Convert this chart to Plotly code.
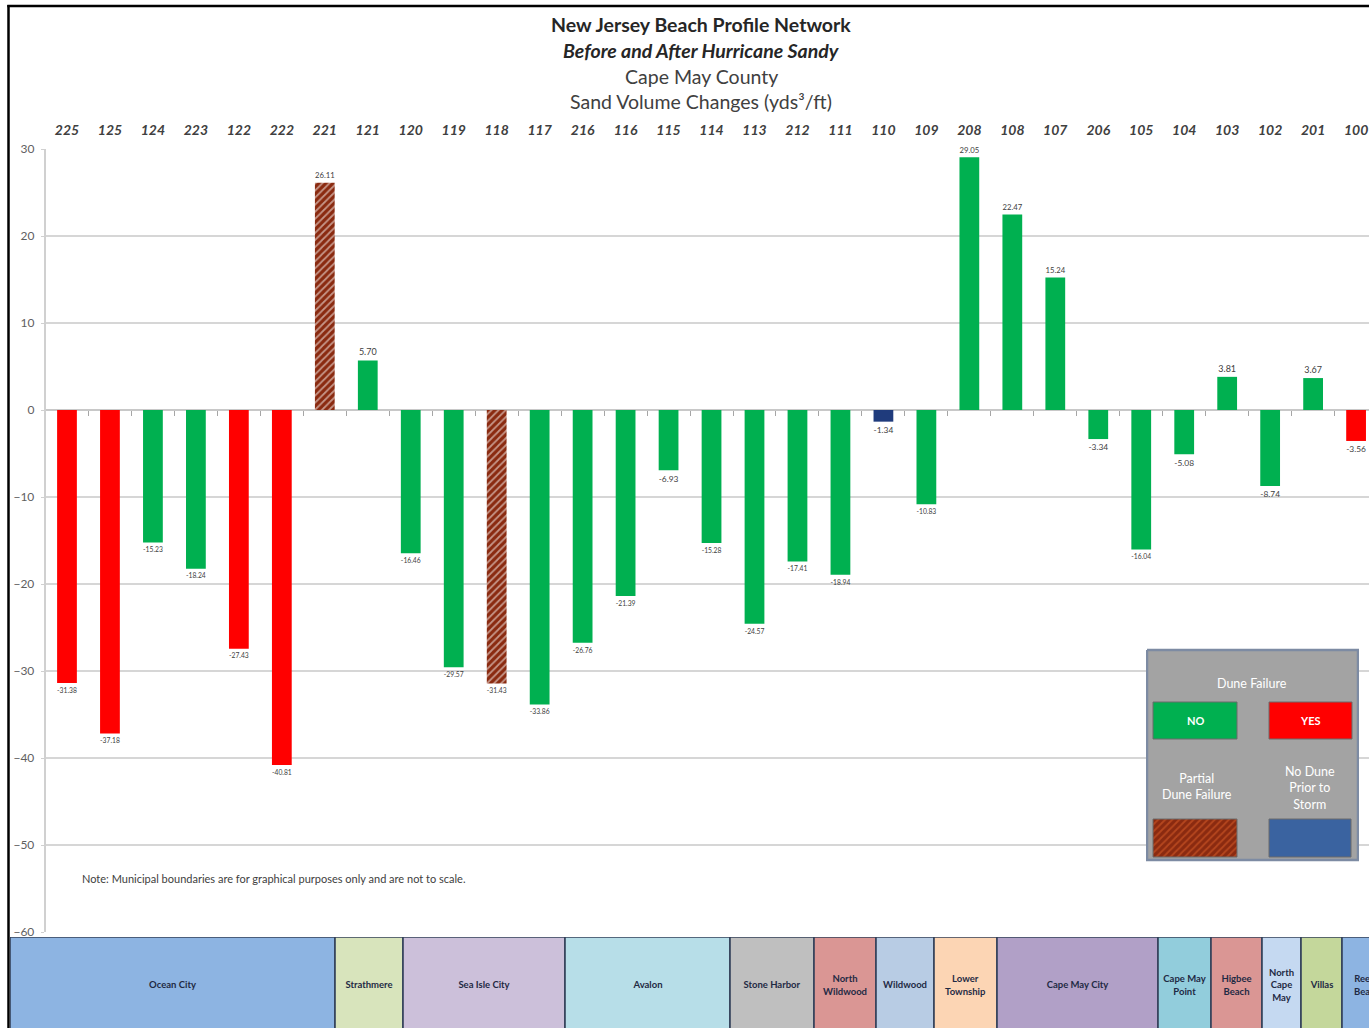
import plotly.graph_objects as go

# ---------------------------------------------------------------- data
profiles = ["225", "125", "124", "223", "122", "222", "221", "121", "120", "119",
            "118", "117", "216", "116", "115", "114", "113", "212", "111", "110",
            "109", "208", "108", "107", "206", "105", "104", "103", "102", "201", "100"]

volume_change = [-31.38, -37.18, -15.23, -18.24, -27.43, -40.81, 26.11, 5.70, -16.46, -29.57,
                 -31.43, -33.86, -26.76, -21.39, -6.93, -15.28, -24.57, -17.41, -18.94, -1.34,
                 -10.83, 29.05, 22.47, 15.24, -3.34, -16.04, -5.08, 3.81, -8.74, 3.67, -3.56]

dune_status = ["yes", "yes", "no", "no", "yes", "yes", "partial", "no", "no", "no",
               "partial", "no", "no", "no", "no", "no", "no", "no", "no", "none",
               "no", "no", "no", "no", "no", "no", "no", "no", "no", "no", "yes"]

municipalities = ["Ocean City", "Strathmere", "Sea Isle City", "Avalon", "Stone Harbor",
                  "North<br>Wildwood", "Wildwood", "Lower<br>Township", "Cape May City",
                  "Cape May<br>Point", "Higbee<br>Beach", "North<br>Cape<br>May", "Villas",
                  "Reeds<br>Beach"]
# relative length of each municipality along the shore strip (not to scale)
municipality_extent = [325, 68, 162, 165, 84, 62, 58, 63, 161, 53, 51, 39, 41, 50]

# ---------------------------------------------------------------- styling
W, H = 1369, 1028
ML, MR, MT, MB = 10, 0, 149, 0
PW, PH = W - ML - MR, H - MT - MB


def px_x(x):
    return (x - ML) / PW


def px_y(y):
    return (H - MB - y) / PH


FONT = "Lato"
status_colors = {"no": "#00b050", "yes": "#ff0000", "partial": "#8a2a10", "none": "#1f3b7c"}
muni_colors = ["#8db4e2", "#d8e4bc", "#ccc0da", "#b7dee8", "#bfbfbf", "#da9694", "#b8cce4",
               "#fcd5b4", "#b1a0c7", "#92cddc", "#da9694", "#c5d9f1", "#c4d79b", "#8db4e2"]

bar_colors = [status_colors[s] for s in dune_status]
bar_patterns = ["/" if s == "partial" else "" for s in dune_status]

y_lo, y_hi = -60, 30
y_dom = [px_y(932), px_y(149)]
x_dom = [px_x(45.5), 1.0]
cat_w = 42.97
x_range = [-0.5, -0.5 + (W - 45.5) / cat_w]
zero_pos = y_dom[0] + (y_dom[1] - y_dom[0]) * (0 - y_lo) / (y_hi - y_lo)

fig = go.Figure()

# main bars
fig.add_trace(go.Bar(
    x=profiles, y=volume_change, width=0.46,
    marker=dict(color=bar_colors, line=dict(width=0),
                pattern=dict(shape=bar_patterns, fgcolor="#e0622c", size=5,
                             solidity=0.35, fillmode="overlay")),
    texttemplate="%{y:.2f}", textposition="outside", cliponaxis=False,
    textfont=dict(family=FONT, size=9, color="#404040"),
    hoverinfo="x+y", showlegend=False,
))

# carrier for the zero-line axis with its category ticks
fig.add_trace(go.Scatter(x=[0, len(profiles) - 1], y=[0, 0], xaxis="x2", yaxis="y",
                         mode="markers", marker=dict(opacity=0), hoverinfo="skip",
                         showlegend=False))

# municipal strip
starts = [sum(municipality_extent[:i]) for i in range(len(municipality_extent))]
fig.add_trace(go.Bar(
    y=[0] * len(municipalities), x=municipality_extent, base=starts, orientation="h",
    width=1.0, xaxis="x3", yaxis="y3",
    marker=dict(color=muni_colors, line=dict(color="#34415a", width=1.6)),
    text=municipalities, textposition="inside", insidetextanchor="middle",
    constraintext="none", textangle=0,
    textfont=dict(family=FONT, size=9.5, color="#1f2a44", weight="bold"),
    hoverinfo="text", showlegend=False,
))

# dune-failure key
def rect(x0, y0, x1, y1):
    return [x0, x1, x1, x0, x0], [y0, y0, y1, y1, y0]


kx, ky = rect(1147, 650, 1358, 860)
fig.add_trace(go.Scatter(x=kx, y=ky, xaxis="x4", yaxis="y4", mode="lines", fill="toself",
                         fillcolor="#a3a3a3", line=dict(color="#7d8ba3", width=2.5),
                         hoverinfo="skip", showlegend=False))
for (x0, y0, x1, y1), col in [((1153, 702, 1237, 739), status_colors["no"]),
                              ((1269, 702, 1352, 739), status_colors["yes"]),
                              ((1269, 819, 1351, 857), "#3a63a0")]:
    sx, sy = rect(x0, y0, x1, y1)
    fig.add_trace(go.Scatter(x=sx, y=sy, xaxis="x4", yaxis="y4", mode="lines", fill="toself",
                             fillcolor=col, line=dict(color="#6b6b6b", width=1),
                             hoverinfo="skip", showlegend=False))
sx, sy = rect(1153, 819, 1237, 857)
fig.add_trace(go.Scatter(x=sx, y=sy, xaxis="x4", yaxis="y4", mode="lines", fill="toself",
                         fillcolor=status_colors["partial"],
                         fillpattern=dict(shape="/", fgcolor="#e0622c", size=5, solidity=0.35,
                                          fillmode="overlay"),
                         line=dict(color="#6b6b6b", width=1),
                         hoverinfo="skip", showlegend=False))

annotations = []
titles = [
    ("<b>New Jersey Beach Profile Network</b>", 24, "#262626"),
    ("<b><i>Before and After Hurricane Sandy</i></b>", 50, "#262626"),
    ("Cape May County", 77, "#404040"),
    ("Sand Volume Changes (yds³/ft)", 101, "#404040"),
]
for txt, py, col in titles:
    annotations.append(dict(text=txt, x=px_x(701), y=px_y(py), xref="paper", yref="paper",
                            showarrow=False, xanchor="center", yanchor="middle",
                            font=dict(family=FONT, size=19.5, color=col)))

annotations.append(dict(
    text="Note: Municipal boundaries are for graphical purposes only and are not to scale.",
    x=px_x(80), y=px_y(878), xref="paper", yref="paper", showarrow=False,
    xanchor="left", yanchor="middle", font=dict(family=FONT, size=11, color="#404040")))

key_text = [
    ("Dune Failure", 1252, 683, 12.5),
    ("<b>NO</b>", 1195, 720, 11),
    ("<b>YES</b>", 1310, 720, 11),
    ("Partial<br>Dune Failure", 1197, 786, 12.5),
    ("No Dune<br>Prior to<br>Storm", 1310, 788, 12.5),
]
for txt, kxp, kyp, fs in key_text:
    annotations.append(dict(text=txt, x=kxp, y=kyp, xref="x4", yref="y4", showarrow=False,
                            xanchor="center", yanchor="middle",
                            font=dict(family=FONT, size=fs, color="white")))

# outer frame
frame = [
    dict(type="line", xref="paper", yref="paper", x0=px_x(8.5), x1=px_x(8.5),
         y0=px_y(5), y1=px_y(H), line=dict(color="black", width=2.5)),
    dict(type="line", xref="paper", yref="paper", x0=px_x(7.3), x1=px_x(W),
         y0=px_y(6), y1=px_y(6), line=dict(color="black", width=2.5)),
]

fig.update_layout(
    width=W, height=H, autosize=False,
    margin=dict(l=ML, r=MR, t=MT, b=MB, pad=0, autoexpand=False),
    paper_bgcolor="white", plot_bgcolor="white",
    font=dict(family=FONT),
    bargap=0.5,
    xaxis=dict(type="category", domain=x_dom, range=x_range, side="top", anchor="y",
               showgrid=False, showline=False, zeroline=False, ticks="",
               ticklabelstandoff=10, automargin=False,
               tickfont=dict(family=FONT, size=14, color="#404040", weight="bold",
                             style="italic")),
    xaxis2=dict(overlaying="x", anchor="free", position=zero_pos, range=x_range,
                tickmode="array", tickvals=[i + 0.5 for i in range(-1, len(profiles))],
                showticklabels=False, ticks="outside", ticklen=5, tickwidth=1,
                tickcolor="#a6a6a6", showline=True, linecolor="#c8c8c8", linewidth=1.5,
                showgrid=False, zeroline=False, layer="below traces", automargin=False),
    yaxis=dict(domain=y_dom, range=[y_lo, y_hi], tick0=0, dtick=10,
               showgrid=True, gridcolor="#d6d6d6", gridwidth=1.5, zeroline=False,
               showline=True, linecolor="#d0d0d0", linewidth=1.5, automargin=False,
               ticks="outside", ticklen=3, tickcolor="#d0d0d0", ticklabelstandoff=4,
               tickfont=dict(family=FONT, size=12, color="#5f5f5f")),
    xaxis3=dict(domain=[0, 1], anchor="y3", range=[0, PW], visible=False, fixedrange=True,
                automargin=False),
    yaxis3=dict(domain=[0, px_y(937)], anchor="x3", range=[-0.45, 0.5], visible=False,
                fixedrange=True, automargin=False),
    xaxis4=dict(domain=[px_x(1146), px_x(1359)], anchor="y4", range=[1146, 1359],
                visible=False, fixedrange=True, automargin=False),
    yaxis4=dict(domain=[px_y(862), px_y(648)], anchor="x4", range=[862, 648],
                visible=False, fixedrange=True, automargin=False),
    annotations=annotations,
    shapes=frame,
)

fig.write_html("out.html")
